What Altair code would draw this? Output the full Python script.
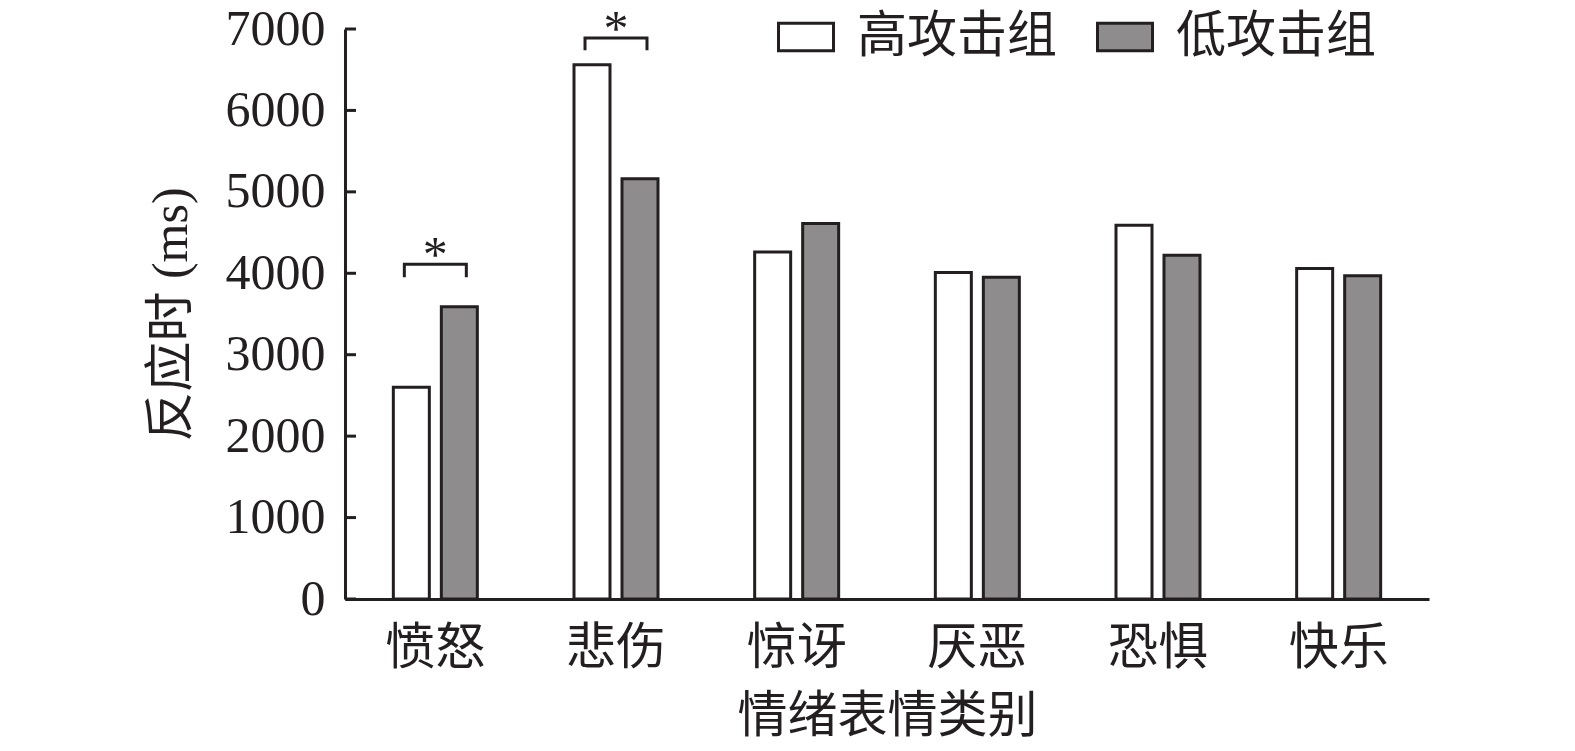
import altair as alt
import pandas as pd

categories = ["愤怒", "悲伤", "惊讶", "厌恶", "恐惧", "快乐"]
groups = ["高攻击组", "低攻击组"]
high_values = [2600, 6560, 4260, 4010, 4590, 4060]
low_values = [3590, 5160, 4610, 3950, 4220, 3970]
y_ticks = [0, 1000, 2000, 3000, 4000, 5000, 6000, 7000]

# significance brackets
sig_categories = ["愤怒", "悲伤"]
sig_top = [4110, 6890]
sig_leg = [3950, 6740]
sig_star = [4210, 6990]

FONT = "Liberation Serif, Noto Sans CJK SC"
INK = "#231f20"
GRAY = "#8e8c8d"

rows = []
for c, h, l in zip(categories, high_values, low_values):
    rows.append({"cat": c, "group": groups[0], "value": h})
    rows.append({"cat": c, "group": groups[1], "value": l})
bars_df = pd.DataFrame(rows)

br_rows = []
for c, t, lg in zip(sig_categories, sig_top, sig_leg):
    br_rows += [
        {"cat": c, "side": "L", "v": lg, "ord": 0},
        {"cat": c, "side": "L", "v": t, "ord": 1},
        {"cat": c, "side": "R", "v": t, "ord": 2},
        {"cat": c, "side": "R", "v": lg, "ord": 3},
    ]
br_df = pd.DataFrame(br_rows)
star_df = pd.DataFrame({"cat": sig_categories, "v": sig_star})
tick_df = pd.DataFrame({"value": y_ticks})

x_enc = alt.X(
    "cat:N",
    sort=categories,
    scale=alt.Scale(domain=categories, paddingInner=0.5, paddingOuter=0.25, align=0.5),
    axis=alt.Axis(
        title="情绪表情类别",
        labelAngle=0,
        ticks=False,
        labelFont=FONT,
        labelFontSize=50,
        labelColor=INK,
        labelPadding=24,
        titleFont=FONT,
        titleFontSize=50,
        titleFontWeight="normal",
        titleColor=INK,
        titlePadding=18,
        domainColor=INK,
        domainWidth=3,
    ),
)
y_scale = alt.Scale(domain=[0, 7000], nice=False)
y_enc = alt.Y(
    "value:Q",
    scale=y_scale,
    axis=alt.Axis(
        title="反应时 (ms)",
        values=y_ticks,
        format="d",
        grid=False,
        ticks=False,
        labelFont=FONT,
        labelFontSize=50,
        labelColor=INK,
        labelPadding=20,
        titleFont=FONT,
        titleFontSize=50,
        titleFontWeight="normal",
        titleColor=INK,
        titlePadding=29,
        domainColor=INK,
        domainWidth=3,
    ),
)

bars = alt.Chart(bars_df).mark_bar(stroke=INK, strokeWidth=3, opacity=1).encode(
    x=x_enc,
    y=y_enc,
    xOffset=alt.XOffset(
        "group:N",
        sort=groups,
        scale=alt.Scale(domain=groups, paddingInner=0.25, paddingOuter=0.066),
    ),
    fill=alt.Fill(
        "group:N",
        sort=groups,
        scale=alt.Scale(domain=groups, range=["white", GRAY]),
        legend=alt.Legend(
            title=None,
            orient="none",
            direction="horizontal",
            legendX=432,
            legendY=-21,
            padding=0,
            symbolType="M-1,-0.5L1,-0.5L1,0.5L-1,0.5Z",
            symbolSize=3025,
            symbolStrokeColor=INK,
            symbolStrokeWidth=3,
            symbolOpacity=1,
            labelFont=FONT,
            labelFontSize=50,
            labelColor=INK,
            labelOffset=22,
            columnPadding=34,
            labelLimit=400,
        ),
    ),
)

# inward tick marks on the y axis
ticks = alt.Chart(tick_df).mark_rule(color=INK, strokeWidth=3).encode(
    y=alt.Y("value:Q", scale=y_scale),
    x=alt.value(0),
    x2=alt.value(11),
)

brackets = alt.Chart(br_df).mark_line(color=INK, strokeWidth=3).encode(
    x=alt.X("cat:N", sort=categories),
    xOffset=alt.XOffset(
        "side:N", scale=alt.Scale(type="point", domain=["L", "R"], padding=0.2286)
    ),
    y=alt.Y("v:Q", scale=y_scale),
    detail="cat:N",
    order="ord:Q",
)

stars = alt.Chart(star_df).mark_text(
    text="*", font="Liberation Serif", fontSize=50, color=INK, baseline="middle"
).encode(
    x=alt.X("cat:N", sort=categories),
    y=alt.Y("v:Q", scale=y_scale),
)

chart = (
    alt.layer(bars, brackets, stars, ticks)
    .resolve_scale(xOffset="independent")
    .properties(
        width=1084,
        height=570,
        autosize=alt.AutoSizeParams(type="none"),
        padding={"left": 337, "top": 21, "right": 130, "bottom": 143},
    )
    .configure_view(stroke="transparent", strokeWidth=0)
)

chart.save("out.html", embed_options={"renderer": "svg", "actions": False})
